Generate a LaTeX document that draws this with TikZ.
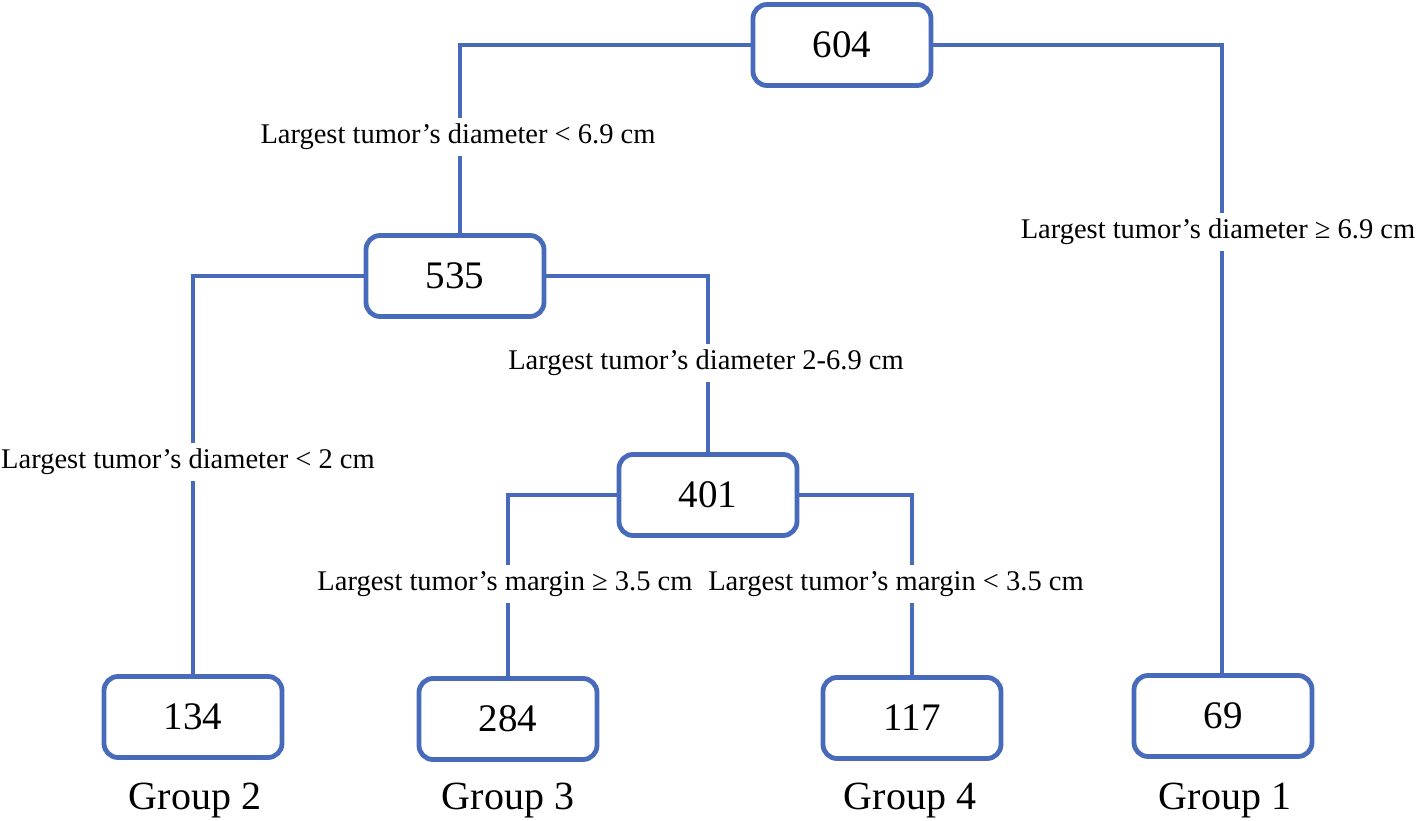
\documentclass[tikz,border=0pt]{standalone}
\usepackage{fontspec}
\setmainfont{Liberation Serif}
\usetikzlibrary{backgrounds}
\definecolor{treeblue}{RGB}{72,106,186}
\tikzset{
  box/.style={draw=treeblue, line width=4.8pt, rounded corners=14pt, fill=white,
    minimum width=178pt, minimum height=81pt, inner sep=0pt, font=\fontsize{39}{41}\selectfont},
  conn/.style={draw=treeblue, line width=4pt},
  cond/.style={fill=white, inner xsep=2pt, inner ysep=6pt, font=\fontsize{28.5}{30}\selectfont},
  grp/.style={inner sep=0pt, font=\fontsize{40}{42}\selectfont}
}
\begin{document}
\begin{tikzpicture}[x=1pt,y=-1pt]
\useasboundingbox (0,0) rectangle (1417,821);
% boxes
\path (842,45) node[box] (n604) {604};
\path (455,276) node[box] (n535) {535};
\path (708,495) node[box] (n401) {401};
\path (193,717) node[box] (n134) {134};
\path (508,719) node[box] (n284) {284};
\path (912,718) node[box] (n117) {117};
\path (1223,716) node[box] (n69) {69};
% corner coordinates
\coordinate (c1) at (460,45);
\coordinate (c2) at (1222,45);
\coordinate (c3) at (193,276);
\coordinate (c4) at (708,276);
\coordinate (c5) at (508,495);
\coordinate (c6) at (912,495);
% white page and connectors behind boxes
\begin{pgfonlayer}{background}
\fill[white] (0,0) rectangle (1417,821);
\draw[conn] (n604.west) -- (c1) -- (c1 |- n535.north);
\draw[conn] (n604.east) -- (c2) -- (c2 |- n69.north);
\draw[conn] (n535.west) -- (c3) -- (c3 |- n134.north);
\draw[conn] (n535.east) -- (c4) -- (n401.north);
\draw[conn] (n401.west) -- (c5) -- (c5 |- n284.north);
\draw[conn] (n401.east) -- (c6) -- (c6 |- n117.north);
\end{pgfonlayer}
% condition labels
\node[cond] (l1) at (458,137) {Largest tumor’s diameter < 6.9 cm};
\node[cond] (l2) at (1218,232) {Largest tumor’s diameter ≥ 6.9 cm};
\node[cond] (l3) at (706,363) {Largest tumor’s diameter 2-6.9 cm};
\node[cond] (l4) at (188,462) {Largest tumor’s diameter < 2 cm};
\node[cond] (l5) at (505,584) {Largest tumor’s margin ≥ 3.5 cm};
\node[cond] (l6) at (896,584) {Largest tumor’s margin < 3.5 cm};
% group labels
\node[grp] (g2) at (195,801) {Group 2};
\node[grp] (g3) at (508,801) {Group 3};
\node[grp] (g4) at (910,801) {Group 4};
\node[grp] (g1) at (1225,801) {Group 1};
\end{tikzpicture}
\end{document}
